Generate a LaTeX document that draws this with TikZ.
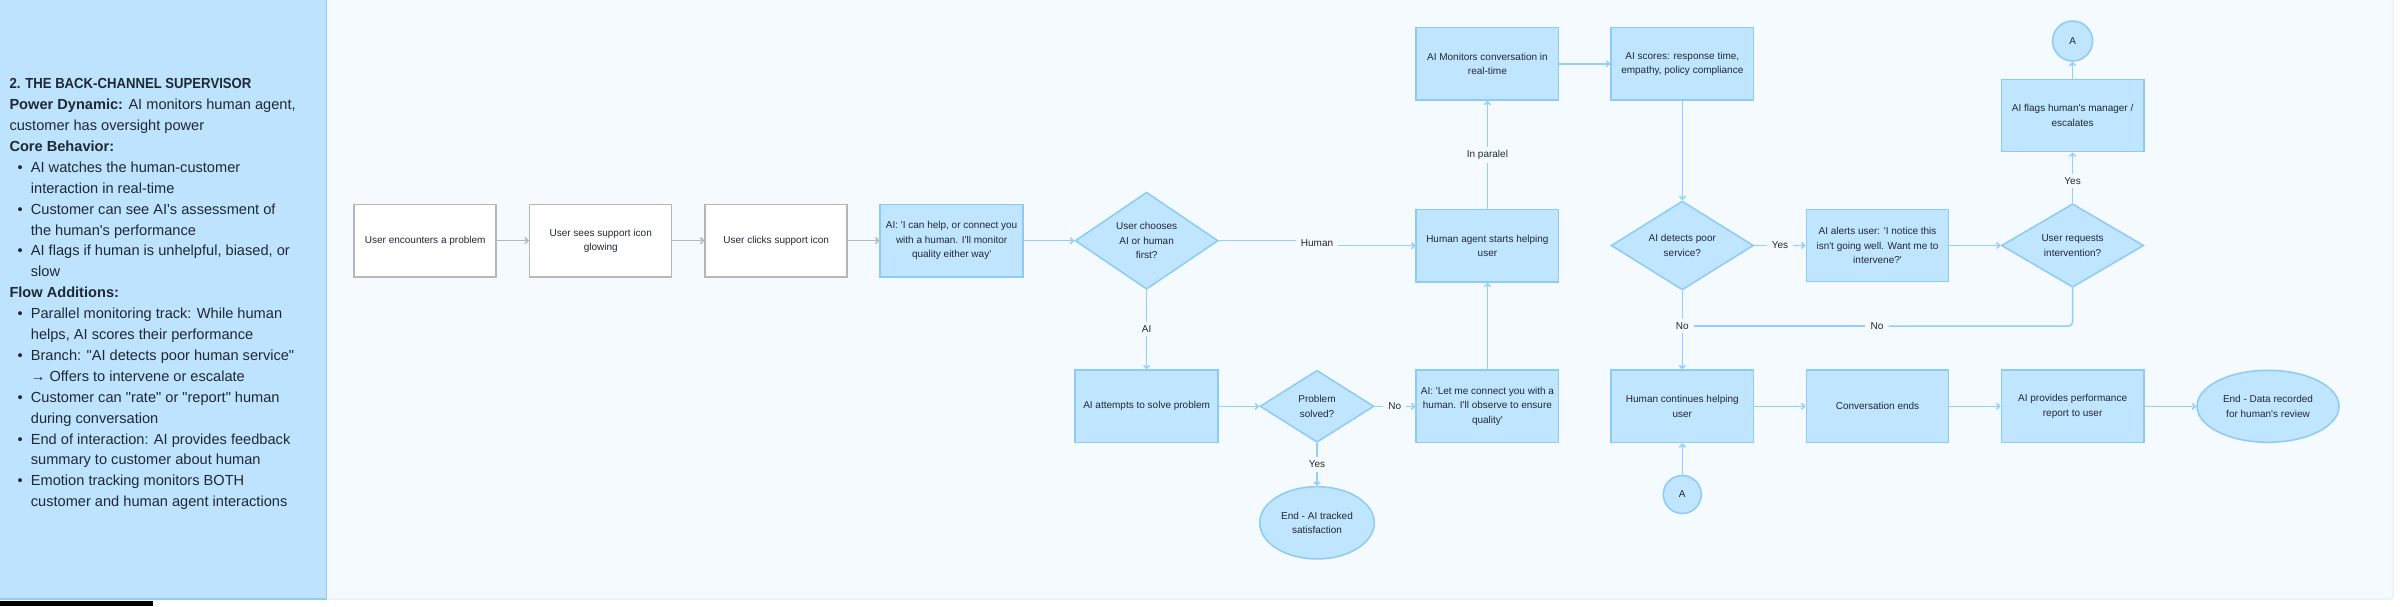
\documentclass[tikz,border=0pt]{standalone}
\usepackage{fontspec}
\setmainfont{Liberation Sans}[Ligatures=TeXOff]
\usetikzlibrary{arrows.meta,shapes.geometric}
\definecolor{pagebg}{HTML}{F5FAFF}
\definecolor{pageline}{HTML}{E2ECF5}
\definecolor{panelbg}{HTML}{BDE3FF}
\definecolor{panelline}{HTML}{90CDF9}
\definecolor{boxfill}{HTML}{C0E5FF}
\definecolor{boxline}{HTML}{8CCBF8}
\definecolor{flowline}{HTML}{93CFFA}
\definecolor{grayline}{HTML}{B4B8BD}
\definecolor{txt}{HTML}{1F2933}
\newcommand\pbul{\llap{\textbullet\hspace{8.2pt}}}
\tikzset{
  basetext/.style={font=\fontsize{10}{14.3}\selectfont, text=txt, align=center, inner sep=0pt},
  wbox/.style={basetext, rectangle, draw=grayline, fill=white, line width=1.5pt, minimum width=142pt, minimum height=72.7pt},
  bbox/.style={basetext, rectangle, draw=boxline, fill=boxfill, line width=1.5pt, minimum width=142.4pt, minimum height=72.4pt},
  dia/.style={basetext, diamond, draw=boxline, fill=boxfill, line width=1.5pt},
  oval/.style={basetext, ellipse, draw=boxline, fill=boxfill, line width=1.5pt},
  lbl/.style={basetext, inner xsep=5pt, inner ysep=3.5pt},
  ptext/.style={anchor=base west, inner sep=0pt, text=txt, font=\fontsize{14.6}{20.9}\selectfont},
  bline/.style={draw=flowline, line width=1.5pt},
  bflow/.style={bline, -{Straight Barb[length=3pt,width=6pt]}},
  gflow/.style={draw=grayline, line width=1.5pt, -{Straight Barb[length=3pt,width=6pt]}}
}
\begin{document}
\begin{tikzpicture}[x=1pt,y=-1pt]
\useasboundingbox (0,0) rectangle (2400,606);
\fill[white] (0,0) rectangle (2400,606);
% backgrounds
\filldraw[fill=pagebg, draw=pageline, line width=1pt, rounded corners=3pt] (320,-6) rectangle (2393,599);
\filldraw[fill=panelbg, draw=panelline, line width=1.5pt] (-6,-6) rectangle (326.5,599);
\fill[black] (0,601) rectangle (153,606);

% left panel text
\def\px{9.3}
\def\bx{30.7}
\node[ptext] (p0) at (\px,88.7) {\scalebox{0.9}[1]{\textbf{2. THE BACK-CHANNEL SUPERVISOR}}};
\node[ptext] (p1) at (\px,109.6) {\textbf{Power Dynamic:} AI monitors human agent,};
\node[ptext] (p2) at (\px,130.5) {customer has oversight power};
\node[ptext] (p3) at (\px,151.4) {\textbf{Core Behavior:}};
\node[ptext] (p4) at (\bx,172.3) {\pbul AI watches the human-customer};
\node[ptext] (p5) at (\bx,193.2) {interaction in real-time};
\node[ptext] (p6) at (\bx,214.1) {\pbul Customer can see AI's assessment of};
\node[ptext] (p7) at (\bx,235.0) {the human's performance};
\node[ptext] (p8) at (\bx,255.9) {\pbul AI flags if human is unhelpful, biased, or};
\node[ptext] (p9) at (\bx,276.8) {slow};
\node[ptext] (p10) at (\px,297.7) {\textbf{Flow Additions:}};
\node[ptext] (p11) at (\bx,318.6) {\pbul Parallel monitoring track: While human};
\node[ptext] (p12) at (\bx,339.5) {helps, AI scores their performance};
\node[ptext] (p13) at (\bx,360.4) {\pbul Branch: "AI detects poor human service"};
\node[ptext] (p14) at (\bx,381.3) {→ Offers to intervene or escalate};
\node[ptext] (p15) at (\bx,402.2) {\pbul Customer can "rate" or "report" human};
\node[ptext] (p16) at (\bx,423.1) {during conversation};
\node[ptext] (p17) at (\bx,444.0) {\pbul End of interaction: AI provides feedback};
\node[ptext] (p18) at (\bx,464.9) {summary to customer about human};
\node[ptext] (p19) at (\bx,485.8) {\pbul Emotion tracking monitors BOTH};
\node[ptext] (p20) at (\bx,506.7) {customer and human agent interactions};

% nodes
\node[wbox] (b1) at (425.2,240.7) {User encounters a problem};
\node[wbox] (b2) at (600.7,240.7) {User sees support icon\\glowing};
\node[wbox] (b3) at (776.2,240.7) {User clicks support icon};
\node[bbox, minimum width=142.8pt, minimum height=72.7pt] (b4) at (951.6,240.7) {AI: 'I can help, or connect you\\with a human. I'll monitor\\quality either way'};
\node[dia, minimum width=143pt, minimum height=96pt] (d1) at (1146.6,240.7) {User chooses\\AI or human\\first?};
\node[bbox] (hum) at (1487.4,245.7) {Human agent starts helping\\user};
\node[bbox] (monitor) at (1487.4,63.8) {AI Monitors conversation in\\real-time};
\node[bbox] (scores) at (1682.3,63.8) {AI scores: response time,\\empathy, policy compliance};
\node[dia, minimum width=142.4pt, minimum height=72.4pt] (detect) at (1682.3,245.5) {AI detects poor\\service?};
\node[bbox] (alerts) at (1877.5,245.5) {AI alerts user: 'I notice this\\isn't going well. Want me to\\intervene?'};
\node[dia, minimum width=142.4pt, minimum height=72.4pt] (req) at (2072.6,245.5) {User requests\\intervention?};
\node[bbox] (flags) at (2072.6,115.5) {AI flags human's manager /\\escalates};
\node[oval, minimum width=40pt, minimum height=40pt] (Atop) at (2072.6,41) {A};
\node[bbox, minimum width=142.8pt] (aiatt) at (1146.6,406.3) {AI attempts to solve problem};
\node[dia, minimum width=114pt, minimum height=72pt] (ps) at (1317,406.3) {Problem\\solved?};
\node[bbox] (letme) at (1487.4,406.3) {AI: 'Let me connect you with a\\human. I'll observe to ensure\\quality'};
\node[oval, minimum width=114.6pt, minimum height=72.3pt] (end1) at (1317,522.8) {End - AI tracked\\satisfaction};
\node[bbox] (hcont) at (1682.3,406.3) {Human continues helping\\user};
\node[bbox] (convend) at (1877.5,406.3) {Conversation ends};
\node[bbox] (aiprov) at (2072.6,406.3) {AI provides performance\\report to user};
\node[oval, minimum width=142pt, minimum height=72pt] (end2) at (2268,406.3) {End - Data recorded\\for human's review};
\node[oval, minimum width=38pt, minimum height=38pt] (Abot) at (1682.3,494.5) {A};

% labels
\node[lbl] (hlab) at (1317,243.3) {Human};
\node[lbl] (ailab) at (1146.6,329.3) {AI};
\node[lbl] (nolab1) at (1394.8,406.3) {No};
\node[lbl] (yeslab1) at (1317,464.5) {Yes};
\node[lbl] (parlab) at (1487.4,155) {In paralel};
\node[lbl] (yeslab2) at (1780,245.5) {Yes};
\node[lbl] (yeslab3) at (2072.6,181) {Yes};
\node[lbl] (nolab2) at (1682.3,326) {No};
\node[lbl] (nolab3) at (1877,326) {No};

% connectors
\draw[gflow] (b1) -- (b2);
\draw[gflow] (b2) -- (b3);
\draw[gflow] (b3) -- (b4);
\draw[bflow] (b4) -- (d1);
\draw[bline] (d1.east) -- (hlab.west |- d1.east);
\draw[bflow] (hlab.east |- hum.west) -- (hum.west);
\draw[bline] (d1.south) -- (ailab.north);
\draw[bflow] (ailab.south) -- (aiatt.north);
\draw[bflow] (aiatt) -- (ps);
\draw[bline] (ps.east) -- (nolab1.west);
\draw[bflow] (nolab1.east) -- (letme.west);
\draw[bline] (ps.south) -- (yeslab1.north);
\draw[bflow] (yeslab1.south) -- (end1.north);
\draw[bflow] (letme.north) -- (hum.south);
\draw[bline] (hum.north) -- (parlab.south);
\draw[bflow] (parlab.north) -- (monitor.south);
\draw[bflow] (monitor) -- (scores);
\draw[bflow] (scores.south) -- (detect.north);
\draw[bline] (detect.east) -- (yeslab2.west);
\draw[bflow] (yeslab2.east) -- (alerts.west);
\draw[bflow] (alerts) -- (req);
\draw[bline] (req.north) -- (yeslab3.south);
\draw[bflow] (yeslab3.north) -- (flags.south);
\draw[bflow] (flags) -- (Atop);
\draw[bline] (detect.south) -- (nolab2.north);
\draw[bflow] (nolab2.south) -- (hcont.north);
\draw[bline, rounded corners=4pt] (req.south) -- (req.south |- nolab3) -- (nolab3.east);
\draw[bline] (nolab3.west) -- (nolab2.east);
\draw[bflow] (hcont) -- (convend);
\draw[bflow] (convend) -- (aiprov);
\draw[bflow] (aiprov) -- (end2);
\draw[bflow] (Abot) -- (hcont.south);
\end{tikzpicture}
\end{document}
